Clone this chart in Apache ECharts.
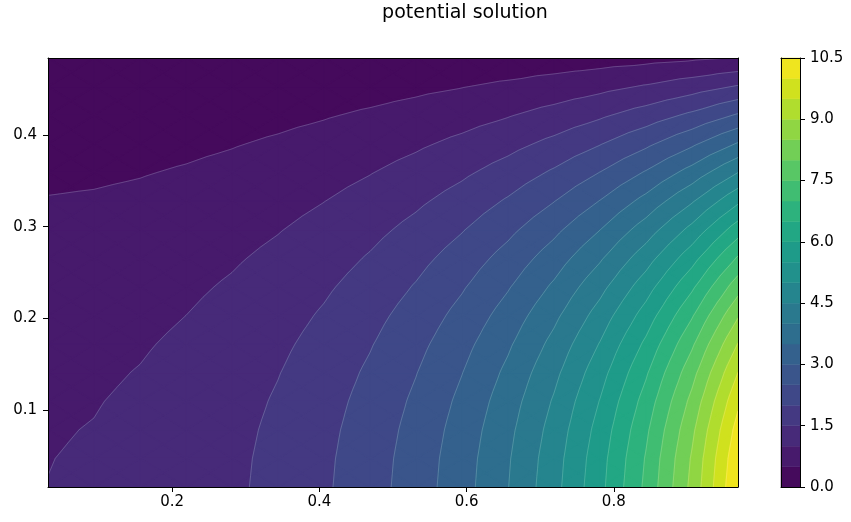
<!DOCTYPE html>
<html><head><meta charset="utf-8">
<script src="https://cdn.jsdelivr.net/npm/echarts@6/dist/echarts.min.js"></script>
<style>html,body{margin:0;padding:0;background:#fff}#chart{width:851px;height:522px}</style>
</head><body><div id="chart"></div>
<script>
// ---- data ----
const chartTitle = 'potential solution';
const xCenters = [0.03125, 0.09375, 0.15625, 0.21875, 0.28125, 0.34375, 0.40625, 0.46875,
                  0.53125, 0.59375, 0.65625, 0.71875, 0.78125, 0.84375, 0.90625, 0.96875];
const yCenters = [0.015625, 0.046875, 0.078125, 0.109375, 0.140625, 0.171875, 0.203125, 0.234375,
                  0.265625, 0.296875, 0.328125, 0.359375, 0.390625, 0.421875, 0.453125, 0.484375];
// potential value at (xCenters[i], yCenters[j]) = potentialRows[j][i]
const potentialRows = [
  [1.004, 1.042, 1.122, 1.244, 1.415, 1.640, 1.929, 2.292, 2.744, 3.302, 3.988, 4.829, 5.855, 7.109, 8.637, 10.499],
  [0.994, 1.032, 1.111, 1.232, 1.401, 1.624, 1.910, 2.270, 2.718, 3.271, 3.950, 4.782, 5.799, 7.040, 8.554, 10.398],
  [0.975, 1.012, 1.089, 1.208, 1.374, 1.593, 1.873, 2.226, 2.665, 3.207, 3.873, 4.689, 5.687, 6.904, 8.388, 10.197],
  [0.946, 0.983, 1.057, 1.173, 1.334, 1.546, 1.818, 2.161, 2.587, 3.113, 3.760, 4.552, 5.520, 6.701, 8.142, 9.898],
  [0.908, 0.943, 1.015, 1.126, 1.280, 1.484, 1.746, 2.075, 2.484, 2.989, 3.610, 4.370, 5.300, 6.434, 7.817, 9.503],
  [0.862, 0.895, 0.963, 1.068, 1.215, 1.408, 1.656, 1.968, 2.357, 2.836, 3.425, 4.147, 5.028, 6.105, 7.417, 9.017],
  [0.807, 0.838, 0.902, 1.000, 1.138, 1.319, 1.551, 1.843, 2.207, 2.656, 3.207, 3.883, 4.709, 5.717, 6.946, 8.444],
  [0.745, 0.773, 0.832, 0.923, 1.049, 1.217, 1.431, 1.700, 2.036, 2.450, 2.959, 3.582, 4.344, 5.274, 6.407, 7.789],
  [0.675, 0.701, 0.754, 0.836, 0.951, 1.103, 1.297, 1.541, 1.845, 2.220, 2.682, 3.247, 3.937, 4.780, 5.807, 7.060],
  [0.599, 0.622, 0.669, 0.742, 0.844, 0.978, 1.150, 1.367, 1.637, 1.970, 2.379, 2.880, 3.492, 4.240, 5.151, 6.262],
  [0.517, 0.537, 0.577, 0.640, 0.728, 0.844, 0.993, 1.180, 1.413, 1.700, 2.053, 2.485, 3.014, 3.659, 4.446, 5.404],
  [0.430, 0.446, 0.480, 0.533, 0.606, 0.702, 0.826, 0.981, 1.175, 1.414, 1.707, 2.067, 2.507, 3.043, 3.697, 4.495],
  [0.339, 0.352, 0.378, 0.420, 0.477, 0.553, 0.651, 0.773, 0.926, 1.114, 1.345, 1.629, 1.975, 2.398, 2.913, 3.541],
  [0.244, 0.254, 0.273, 0.303, 0.344, 0.399, 0.469, 0.558, 0.668, 0.803, 0.970, 1.175, 1.424, 1.729, 2.101, 2.554],
  [0.147, 0.153, 0.165, 0.183, 0.208, 0.241, 0.283, 0.337, 0.403, 0.485, 0.586, 0.709, 0.860, 1.044, 1.269, 1.542],
  [0.049, 0.051, 0.055, 0.061, 0.070, 0.081, 0.095, 0.113, 0.135, 0.162, 0.196, 0.237, 0.288, 0.349, 0.424, 0.516]
];
const contourLevels = [0, 0.5, 1, 1.5, 2, 2.5, 3, 3.5, 4, 4.5, 5, 5.5, 6, 6.5, 7, 7.5, 8, 8.5, 9, 9.5, 10, 10.5];
const xTickValues = [0.2, 0.4, 0.6, 0.8];
const yTickValues = [0.1, 0.2, 0.3, 0.4];
const colorbarTickValues = [0, 1.5, 3, 4.5, 6, 7.5, 9, 10.5];

// ---- style: viridis colormap stops ----
const viridisStops = ['#440154','#471365','#482475','#463480','#414487','#3b528b','#355f8d','#2f6c8e','#2a788e','#25848e','#21918c','#1e9c89','#22a884','#2fb47c','#44bf70','#5ec962','#7ad151','#9bd93c','#bddf26','#dfe318','#fde725'];
function hexToRgb(h){return [parseInt(h.substr(1,2),16),parseInt(h.substr(3,2),16),parseInt(h.substr(5,2),16)];}
function viridis(t){
  t = Math.max(0, Math.min(1, t));
  const f = t * (viridisStops.length - 1);
  const i = Math.min(viridisStops.length - 2, Math.floor(f));
  const u = f - i;
  const a = hexToRgb(viridisStops[i]), b = hexToRgb(viridisStops[i+1]);
  const c = a.map((v, k) => Math.round(v + (b[k] - v) * u));
  return 'rgb(' + c.join(',') + ')';
}
const nBands = contourLevels.length - 1;
const vMin = contourLevels[0], vMax = contourLevels[nBands];
const bandColors = [];
for (let k = 0; k < nBands; k++) {
  const mid = (contourLevels[k] + contourLevels[k+1]) / 2;
  bandColors.push(viridis((mid - vMin) / (vMax - vMin)));
}

// ---- filled-contour geometry (in data units) built from the grid ----
function clipPoly(poly, level, keepAbove) {
  const out = [];
  for (let n = 0; n < poly.length; n++) {
    const a = poly[n], b = poly[(n + 1) % poly.length];
    const ina = keepAbove ? a[2] >= level : a[2] <= level;
    const inb = keepAbove ? b[2] >= level : b[2] <= level;
    if (ina) out.push(a);
    if (ina !== inb) {
      const t = (level - a[2]) / (b[2] - a[2]);
      out.push([a[0] + t * (b[0] - a[0]), a[1] + t * (b[1] - a[1]), level]);
    }
  }
  return out;
}
const bandPolys = [];
const contourSegs = [];
for (let j = 0; j < yCenters.length - 1; j++) {
  for (let i = 0; i < xCenters.length - 1; i++) {
    const p00 = [xCenters[i], yCenters[j], potentialRows[j][i]];
    const p10 = [xCenters[i+1], yCenters[j], potentialRows[j][i+1]];
    const p11 = [xCenters[i+1], yCenters[j+1], potentialRows[j+1][i+1]];
    const p01 = [xCenters[i], yCenters[j+1], potentialRows[j+1][i]];
    const c = [(p00[0]+p10[0])/2, (p00[1]+p01[1])/2, (p00[2]+p10[2]+p11[2]+p01[2])/4];
    const tris = [[p00,p10,c],[p10,p11,c],[p11,p01,c],[p01,p00,c]];
    tris.forEach(tri => {
      const vs = tri.map(p => p[2]);
      const lo = Math.min.apply(null, vs), hi = Math.max.apply(null, vs);
      for (let k = 0; k < nBands; k++) {
        if (contourLevels[k+1] < lo || contourLevels[k] > hi) continue;
        let poly = clipPoly(tri, contourLevels[k], true);
        if (poly.length < 3) continue;
        poly = clipPoly(poly, contourLevels[k+1], false);
        if (poly.length < 3) continue;
        let cx = 0, cy = 0;
        poly.forEach(p => { cx += p[0]; cy += p[1]; });
        bandPolys.push({k: k, pts: poly.map(p => [p[0], p[1]]), color: bandColors[k], cx: cx/poly.length, cy: cy/poly.length});
      }
      for (let k = 1; k < nBands; k++) {
        const L = contourLevels[k];
        if (L < lo || L > hi) continue;
        const pts = [];
        for (let e = 0; e < 3; e++) {
          const a = tri[e], b = tri[(e+1)%3];
          if ((a[2] >= L) !== (b[2] >= L)) {
            const t = (L - a[2]) / (b[2] - a[2]);
            pts.push([a[0] + t*(b[0]-a[0]), a[1] + t*(b[1]-a[1])]);
          }
        }
        if (pts.length === 2) contourSegs.push(pts);
      }
    });
  }
}
bandPolys.sort((a, b) => a.k - b.k);

const X_MIN = xCenters[0], X_MAX = xCenters[xCenters.length-1];
const Y_MIN = yCenters[0], Y_MAX = yCenters[yCenters.length-1];
const FONT = 'DejaVu Sans';
const lineBlack = {color:'#000', width:1};

function frameAxis(extra){
  return Object.assign({type:'value', z:10, splitLine:{show:false}, axisLine:{show:true, onZero:false, lineStyle:lineBlack},
    axisTick:{show:false}, axisLabel:{show:false}}, extra);
}
function tickAxis(extra, ticks, margin){
  return Object.assign({type:'value', z:10, splitLine:{show:false}, axisLine:{show:true, onZero:false, lineStyle:lineBlack},
    axisTick:{show:true, inside:false, length:5, customValues:ticks, lineStyle:{color:'#000', width:1}},
    axisLabel:{show:true, customValues:ticks, formatter:v => Number(v).toFixed(1), color:'#000', fontSize:15, fontFamily:FONT, margin:margin}}, extra);
}

const option = {
  animation:false,
  backgroundColor:'#ffffff',
  graphic:[{type:'text', x:465, y:4, style:{text:chartTitle, fill:'#000', font:'19px "DejaVu Sans"', align:'center', verticalAlign:'top'}}],
  grid:[
    {left:48, top:58, width:690, height:429},
    {left:781, top:58, width:19, height:429}
  ],
  xAxis:[
    tickAxis({gridIndex:0, min:X_MIN, max:X_MAX, position:'bottom'}, xTickValues, 8),
    frameAxis({gridIndex:0, min:X_MIN, max:X_MAX, position:'top'}),
    frameAxis({gridIndex:1, min:0, max:1, position:'bottom'}),
    frameAxis({gridIndex:1, min:0, max:1, position:'top'})
  ],
  yAxis:[
    tickAxis({gridIndex:0, min:Y_MIN, max:Y_MAX, position:'left'}, yTickValues, 11),
    frameAxis({gridIndex:0, min:Y_MIN, max:Y_MAX, position:'right'}),
    tickAxis({gridIndex:1, min:vMin, max:vMax, position:'right'}, colorbarTickValues, 10),
    frameAxis({gridIndex:1, min:vMin, max:vMax, position:'left'})
  ],
  series:[
    {
      type:'custom', coordinateSystem:'cartesian2d', xAxisIndex:0, yAxisIndex:0, silent:true, clip:true,
      encode:{x:0, y:1},
      data: bandPolys.map(p => [p.cx, p.cy]),
      renderItem:function(params, api){
        const p = bandPolys[params.dataIndex];
        return {type:'polygon', shape:{points:p.pts.map(q => api.coord(q))},
          style:{fill:p.color, stroke:p.color, lineWidth:1.4, lineJoin:'round'}};
      }
    },
    {
      type:'custom', coordinateSystem:'cartesian2d', xAxisIndex:0, yAxisIndex:0, silent:true, clip:true,
      encode:{x:0, y:1},
      data: contourSegs.map(s => [(s[0][0]+s[1][0])/2, (s[0][1]+s[1][1])/2]),
      renderItem:function(params, api){
        const s = contourSegs[params.dataIndex];
        const a = api.coord(s[0]), b = api.coord(s[1]);
        return {type:'line', shape:{x1:a[0], y1:a[1], x2:b[0], y2:b[1]},
          style:{stroke:'rgba(255,255,255,0.3)', lineWidth:0.6}};
      }
    },
    {
      type:'custom', coordinateSystem:'cartesian2d', xAxisIndex:2, yAxisIndex:2, silent:true,
      encode:{x:0, y:1},
      data: bandColors.map((c, k) => [0.5, (contourLevels[k] + contourLevels[k+1]) / 2]),
      renderItem:function(params, api){
        const k = params.dataIndex;
        const p0 = api.coord([0, contourLevels[k]]);
        const p1 = api.coord([1, contourLevels[k+1]]);
        return {type:'rect', shape:{x:p0[0], y:p1[1], width:p1[0]-p0[0], height:p0[1]-p1[1]},
          style:{fill:bandColors[k], stroke:bandColors[k], lineWidth:0.5}};
      }
    }
  ]
};
const chart = echarts.init(document.getElementById('chart'));
chart.setOption(option);
</script>
</body></html>
